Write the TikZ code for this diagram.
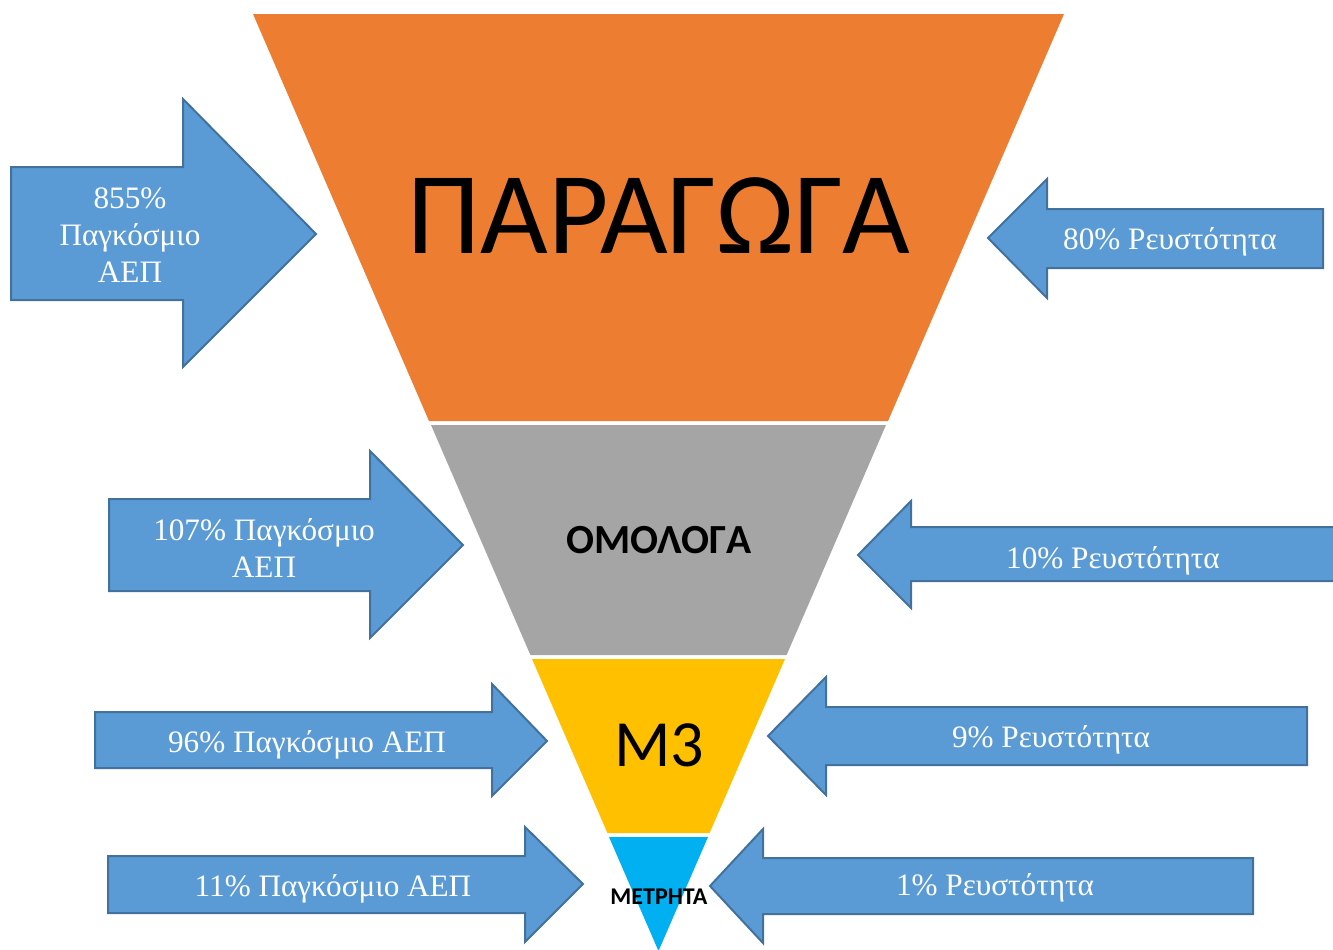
\documentclass[tikz,border=0pt]{standalone}
\usepackage{fontspec}
\setmainfont{Liberation Serif}
\newfontfamily\funnelfont{Carlito}
\definecolor{arrowblue}{HTML}{5B9BD5}
\definecolor{arrowedge}{HTML}{41719C}
\definecolor{prodorange}{HTML}{ED7D31}
\definecolor{bondgray}{HTML}{A5A5A5}
\definecolor{mthree}{HTML}{FFC000}
\definecolor{cashblue}{HTML}{00B0F0}
\tikzset{
flowarrow/.style={fill=arrowblue,draw=arrowedge,line width=1pt,line join=miter},
arrowtext/.style={text=white,font=\fontsize{15.6}{18.5}\selectfont,align=center},
}
\begin{document}
\begin{tikzpicture}[x=0.5pt,y=-0.5pt]
\useasboundingbox (0,0) rectangle (1333,949);
\fill[prodorange] (253,14)--(1064,14)--(888,421)--(429,421)--cycle;
\fill[bondgray] (431,425)--(886,425)--(786.6,655)--(530.4,655)--cycle;
\fill[mthree] (532,659)--(785,659)--(709.6,833)--(607.4,833)--cycle;
\fill[cashblue] (609,837)--(708,837)--(658.5,951)--cycle;
\node[font=\funnelfont\fontsize{58.5}{62}\selectfont] (paragoga) at (659,216) {ΠΑΡΑΓΩΓΑ};
\node[font=\funnelfont\bfseries\fontsize{20.7}{24}\selectfont] (omologa) at (659,540) {ΟΜΟΛΟΓΑ};
\node[font=\funnelfont\fontsize{33}{36}\selectfont] (mtria) at (659,745) {Μ3};
\node[font=\funnelfont\bfseries\fontsize{12}{14}\selectfont] (metrita) at (659,897) {ΜΕΤΡΗΤΑ};
% left arrows
\filldraw[flowarrow] (11,167)--(183,167)--(183,99)--(316,234)--(183,367)--(183,300)--(11,300)--cycle;
\filldraw[flowarrow] (109,499)--(370,499)--(370,451)--(463,545)--(370,638)--(370,591)--(109,591)--cycle;
\filldraw[flowarrow] (95,712)--(492,712)--(492,684)--(547,741)--(492,796)--(492,768)--(95,768)--cycle;
\filldraw[flowarrow] (108,856)--(525,856)--(525,827)--(583,884)--(525,942)--(525,913)--(108,913)--cycle;
% right arrows
\filldraw[flowarrow] (1323,209)--(1047,209)--(1047,179)--(988,238)--(1047,298)--(1047,268)--(1323,268)--cycle;
\filldraw[flowarrow] (1345,527)--(911,527)--(911,501)--(858,555)--(911,608)--(911,581)--(1345,581)--cycle;
\filldraw[flowarrow] (1307,707)--(826,707)--(826,677)--(768,736)--(826,795)--(826,765)--(1307,765)--cycle;
\filldraw[flowarrow] (1253,858)--(763,858)--(763,829)--(710,886)--(763,943)--(763,914)--(1253,914)--cycle;
\node[arrowtext] (aep1) at (130,235) {855\%\\Παγκόσμιο\\ΑΕΠ};
\node[arrowtext] (aep2) at (264,548) {107\% Παγκόσμιο\\ΑΕΠ};
\node[arrowtext] (aep3) at (307,745) {96\% Παγκόσμιο ΑΕΠ};
\node[arrowtext] (aep4) at (333,889) {11\% Παγκόσμιο ΑΕΠ};
\node[arrowtext] (rev1) at (1170,242) {80\% Ρευστότητα};
\node[arrowtext] (rev2) at (1113,561) {10\% Ρευστότητα};
\node[arrowtext] (rev3) at (1051,740) {9\% Ρευστότητα};
\node[arrowtext] (rev4) at (995,888) {1\% Ρευστότητα};
\end{tikzpicture}
\end{document}
